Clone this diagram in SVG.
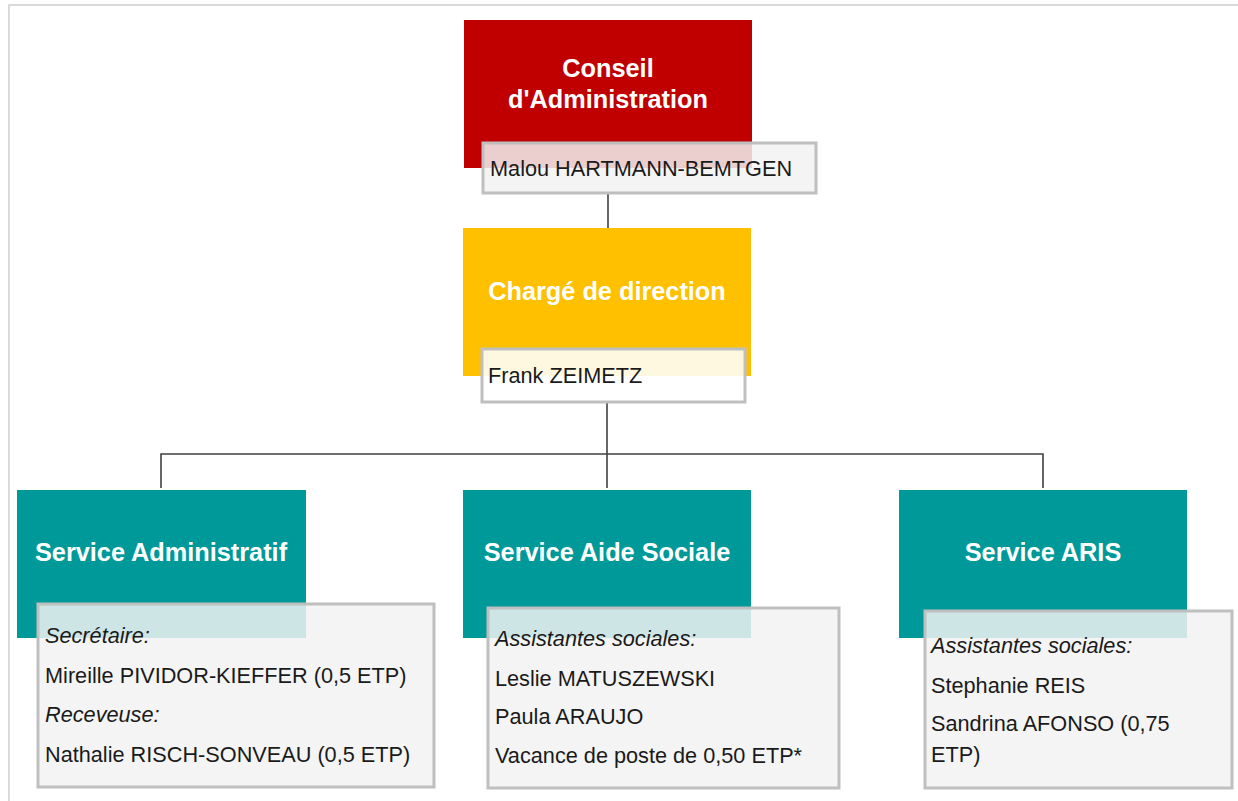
<svg xmlns="http://www.w3.org/2000/svg" width="1238" height="801" viewBox="0 0 1238 801">
<style>
.frame{fill:#ffffff;stroke:#d9d9d9;stroke-width:2}
.red{fill:#c00000}
.yel{fill:#ffc000}
.teal{fill:#009999}
.lbl{fill:#f2f2f2;fill-opacity:0.85;stroke:#bfbfbf;stroke-width:3}
.lblw{fill:#ffffff;fill-opacity:0.88;stroke:#bfbfbf;stroke-width:3}
.title{font-family:"Liberation Sans",Arial,sans-serif;font-weight:bold;font-size:25.3px;fill:#ffffff;text-anchor:middle}
.txt{font-family:"Liberation Sans",Arial,sans-serif;font-size:21.7px;fill:#1a1a1a}
.it{font-style:italic}
.conn{fill:none;stroke:#404040;stroke-width:1.6}
</style>
<rect x="0" y="0" width="1238" height="801" fill="#ffffff"/>
<rect class="frame" x="9" y="5" width="1240" height="810"/>
<g id="connectors">
<path class="conn" d="M608,193 V228"/>
<path class="conn" d="M607,402 V488"/>
<path class="conn" d="M161,488 V454 H1043 V488"/>
</g>
<g id="conseil">
<rect class="red" x="464" y="20" width="288" height="148"/>
<text class="title" x="608" y="77">Conseil</text>
<text class="title" x="608" y="108">d'Administration</text>
<rect class="lbl" x="483" y="143" width="333" height="50"/>
<text class="txt" x="490" y="176">Malou HARTMANN-BEMTGEN</text>
</g>
<g id="direction">
<rect class="yel" x="463" y="228" width="288" height="148"/>
<text class="title" x="607" y="300">Chargé de direction</text>
<rect class="lblw" x="482" y="349" width="263" height="53"/>
<text class="txt" x="488" y="383">Frank ZEIMETZ</text>
</g>
<g id="admin">
<rect class="teal" x="17" y="490" width="289" height="148"/>
<text class="title" x="161" y="561">Service Administratif</text>
<rect class="lbl" x="38" y="604" width="396" height="183"/>
<text class="txt it" x="45" y="643">Secrétaire:</text>
<text class="txt" x="45" y="683">Mireille PIVIDOR-KIEFFER (0,5 ETP)</text>
<text class="txt it" x="45" y="722">Receveuse:</text>
<text class="txt" x="45" y="762">Nathalie RISCH-SONVEAU (0,5 ETP)</text>
</g>
<g id="aide">
<rect class="teal" x="463" y="490" width="288" height="148"/>
<text class="title" x="607" y="561">Service Aide Sociale</text>
<rect class="lbl" x="488" y="608" width="351" height="180"/>
<text class="txt it" x="495" y="646">Assistantes sociales:</text>
<text class="txt" x="495" y="686">Leslie MATUSZEWSKI</text>
<text class="txt" x="495" y="724">Paula ARAUJO</text>
<text class="txt" x="495" y="763">Vacance de poste de 0,50 ETP*</text>
</g>
<g id="aris">
<rect class="teal" x="899" y="490" width="288" height="148"/>
<text class="title" x="1043" y="561">Service ARIS</text>
<rect class="lbl" x="925" y="611" width="307" height="177"/>
<text class="txt it" x="931" y="653">Assistantes sociales:</text>
<text class="txt" x="931" y="693">Stephanie REIS</text>
<text class="txt" x="931" y="731">Sandrina AFONSO (0,75</text>
<text class="txt" x="931" y="762">ETP)</text>
</g>
</svg>
